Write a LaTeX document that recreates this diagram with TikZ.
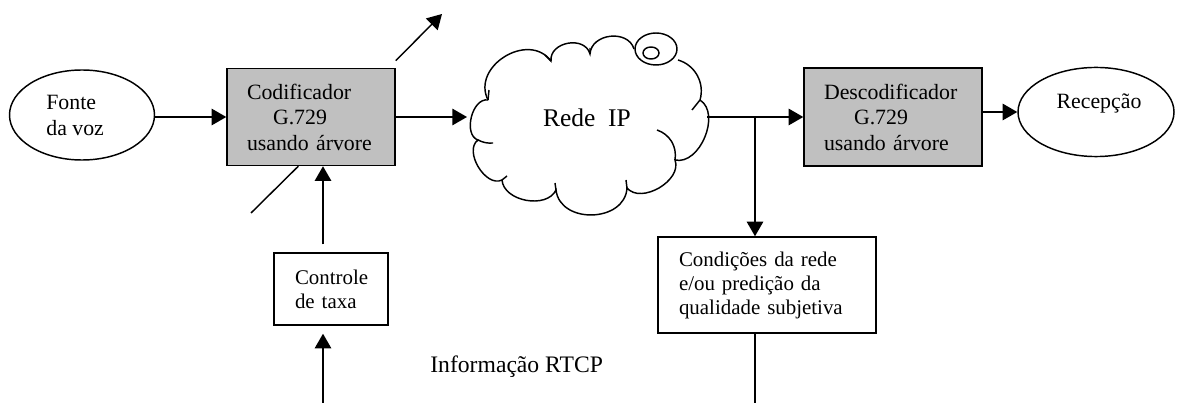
\documentclass[tikz,border=0pt]{standalone}
\usepackage{fontspec}
\setmainfont{Liberation Serif}
\usetikzlibrary{arrows.meta,positioning,calc,shapes.geometric}
\newcommand{\bxf}{\fontsize{12}{14}\selectfont}
\newcommand{\smf}{\fontsize{11.5}{13.2}\selectfont}
\definecolor{gc}{RGB}{192,192,192}
\tikzset{ln/.style={line width=.8pt},
 arr/.style={ln,-{Triangle[length=8pt,width=9pt]}},
 oval/.style={draw,ln,ellipse,inner sep=0pt},
 gbox/.style={draw,ln,fill=gc,align=left,inner xsep=11pt,inner ysep=0pt,font=\bxf},
 wbox/.style={draw,ln,align=left,inner xsep=11.55pt,inner ysep=0pt,font=\smf}}
\begin{document}
\begin{tikzpicture}[x=0.55pt,y=0.55pt]
\useasboundingbox (0,0) rectangle (1178,-403);
% blocos
\node[oval,minimum width=79.75pt,minimum height=49.5pt] (src) at (82,-115) {};
\node[anchor=west,align=left,font=\bxf,inner sep=0pt] (srct) at (46,-115.5) {Fonte\\da voz};
\node[gbox,text width=70.4pt,minimum height=53.4pt] (cod) at (311,-117) {Codificador\\\hspace*{14.3pt}G.729\\usando árvore};
\node[gbox,text width=75.9pt,minimum height=53.9pt] (dec) at (893,-117) {Descodificador\\\hspace*{16.5pt}G.729\\usando árvore};
\node[oval,minimum width=85.8pt,minimum height=49pt] (dst) at (1096,-112) {};
\node[font=\bxf,inner sep=0pt] (dstt) at (1099,-103) {Recepção};
\node[wbox,text width=39.6pt,minimum height=39.6pt] (ctl) at (331,-289) {Controle\\de taxa};
\node[wbox,text width=96.8pt,minimum height=52.8pt] (cond) at (767,-285) {Condições da rede\\e/ou predição da\\qualidade subjetiva};
\node[font=\fontsize{14}{16}\selectfont,inner sep=0pt] (ip) at (587,-118) {Rede~~IP};
\node[anchor=base west,font=\fontsize{13}{15}\selectfont,inner sep=0pt] (rtcp) at (430,-372) {Informação RTCP};
% nuvem
\draw[ln] (488,-100) to[bend left=85,looseness=1.3] (551,-61)
 to[bend left=85,looseness=1.25] (590,-54) to[bend left=80,looseness=1.2] (634,-49);
\draw[ln] (678,-60) to[bend left=45] (700,-100) to[bend left=80] (675,-160)
 to[bend left=80] (627,-188) to[bend left=85,looseness=1.25] (556,-190)
 to[bend left=75] (502,-180) to[bend left=85] (478,-140) to[bend left=85] (488,-100);
\draw[ln] (656,-49) ellipse [x radius=21,y radius=16];
\draw[ln] (651,-53) ellipse [x radius=8,y radius=6];
\draw[ln] (478,-140) to[bend right=15] (493,-143)
 (488,-100) -- (489,-90) (502,-180) -- (507,-176) (556,-190) -- (555,-183)
 (627,-188) -- (626,-180) (700,-100) -- (692,-110) (551,-61) -- (545,-55)
 (590,-54) -- (590,-48) (657,-130) to[bend left=40] (675,-160);
\coordinate (ipw) at (467,-117);
\coordinate (ipe) at (707,-117);
\coordinate (br) at (755,-117);
\coordinate (outtip) at (442,-14);
\coordinate (intail) at (251,-213);
\coordinate (rtcpin) at (323,-403);
\coordinate (condout) at (755,-403);
% ligacoes
\draw[arr] (src.east |- cod.west) -- (cod.west);
\draw[arr] (cod.east) -- (ipw);
\draw[ln] (ipe) -- (br);
\draw[arr] (br) -- (dec.west);
\draw[arr] (dec.east |- dst.west) -- (dst.west);
\draw[arr] (br) -- (br |- cond.north);
\draw[ln] (br |- cond.south) -- (condout);
\draw[arr] ($(cod.north east)+(0,7)$) -- (outtip);
\draw[ln] ($(cod.south west)+(72,0)$) -- (intail);
\draw[arr,shorten <=4.4pt] (rtcpin |- ctl.north) -- (rtcpin |- cod.south);
\draw[arr,shorten >=4.4pt] (rtcpin) -- (rtcpin |- ctl.south);
\end{tikzpicture}
\end{document}
